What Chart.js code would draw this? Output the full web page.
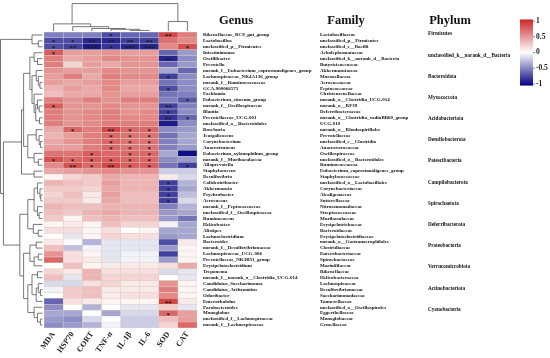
<!DOCTYPE html>
<html>
<head>
<meta charset="utf-8">
<script src="https://cdn.jsdelivr.net/npm/chart.js@4.4.1/dist/chart.umd.min.js"></script>
<style>
  html, body { margin: 0; padding: 0; background: #fff; }
  #wrap { width: 550px; height: 358px; }
</style>
</head>
<body>
<div id="wrap"><canvas id="heat" width="550" height="358"></canvas></div>
<script>
// 菌属与指标相关性热图 (Spearman r, -1 ~ 1)

const indicators = ['MDA', 'HSP70', 'CORT', 'TNF-α', 'IL-1β', 'IL-6', 'SOD', 'CAT'];

const genera = [
  'Rikenellaceae_RC9_gut_group', 'Lactobacillus', 'unclassified_p__Firmicutes', 'Intestinimonas',
  'Oscillibacter', 'Prevotella', 'norank_f__Eubacterium_coprostanoligenes_group',
  'Lachnospiraceae_NK4A136_group', 'norank_f__Ruminococcaceae', 'GCA-900066575', 'Facklamia',
  'Eubacterium_siraeum_group', 'norank_f__Oscillospiraceae', 'Blautia', 'Prevotellaceae_UCG-001',
  'unclassified_o__Bacteroidales', 'Roseburia', 'Jeotgalicoccus', 'Corynebacterium', 'Anaerotruncus',
  'Eubacterium_xylanophilum_group', 'norank_f__Muribaculaceae', 'Alloprevotella', 'Staphylococcus',
  'Desulfovibrio', 'Colidextribacter', 'Akkermansia', 'Psychrobacter', 'Aerococcus',
  'norank_f__Peptococcaceae', 'unclassified_f__Oscillospiraceae', 'Ruminococcus', 'Helicobacter',
  'Alistipes', 'Lachnoclostridium', 'Bacteroides', 'norank_f__Desulfovibrionaceae',
  'Lachnospiraceae_UCG-006', 'Prevotellaceae_NK3B31_group', 'Erysipelatoclostridium', 'Treponema',
  'norank_f__norank_o__Clostridia_UCG-014', 'Candidatus_Saccharimonas', 'Candidatus_Arthromitus',
  'Odoribacter', 'Enterorhabdus', 'Parabacteroides', 'Monoglobus', 'unclassified_f__Lachnospiraceae',
  'norank_f__Lachnospiraceae',
];

const families = [
  'Lactobacillaceae', 'unclassified_p__Firmicutes', 'unclassified_c__Bacilli', 'Acholeplasmataceae',
  'unclassified_k__norank_d__Bacteria', 'Butyricicoccaceae', 'Akkermansiaceae', 'Moraxellaceae',
  'Aerococcaceae', 'Peptococcaceae', 'Christensenellaceae', 'norank_o__Clostridia_UCG-014',
  'norank_o__RF39', 'Deferribacteraceae', 'norank_o__Clostridia_vadinBB60_group', 'UCG-010',
  'norank_o__Rhodospirillales', 'Prevotellaceae', 'unclassified_c__Clostridia', 'Anaerovoracaceae',
  'Oscillospiraceae', 'unclassified_o__Bacteroidales', 'Ruminococcaceae',
  'Eubacterium_coprostanoligenes_group', 'Staphylococcaceae', 'unclassified_o__Lactobacillales',
  'Corynebacteriaceae', 'Alcaligenaceae', 'Sutterellaceae', 'Nitrosomonadaceae', 'Streptococcaceae',
  'Muribaculaceae', 'Erysipelotrichaceae', 'Bacteroidaceae', 'Erysipelatoclostridiaceae',
  'norank_o__Gastranaerophilales', 'Clostridiaceae', 'Enterobacteriaceae', 'Spirochaetaceae',
  'Marinifilaceae', 'Rikenellaceae', 'Helicobacteraceae', 'Lachnospiraceae', 'Desulfovibrionaceae',
  'Saccharimonadaceae', 'Tannerellaceae', 'unclassified_o__Oscillospirales', 'Eggerthellaceae',
  'Monoglobaceae', 'Gemellaceae',
];

const phyla = [
  'Firmicutes', 'unclassified_k__norank_d__Bacteria', 'Bacteroidota', 'Myxococcota',
  'Acidobacteriota', 'Desulfobacterota', 'Patescibacteria', 'Campilobacterota', 'Spirochaetota',
  'Deferribacterota', 'Proteobacteria', 'Verrucomicrobiota', 'Actinobacteriota', 'Cyanobacteria',
];

// 每行: MDA, HSP70, CORT, TNF-α, IL-1β, IL-6, SOD, CAT
const corr = [
  [-0.5, -0.5, -0.5, -0.7, -0.6, -0.6, 0.85, 0.6],
  [-0.7, -0.7, -0.85, -0.85, -0.75, -0.75, 0.65, 0.55],
  [-0.7, -0.75, -0.9, -0.8, -0.85, -0.85, 0.55, 0.8],
  [0.75, 0.45, 0.45, 0.5, 0.45, 0.45, -0.6, -0.4],
  [0.6, 0.4, 0.45, 0.55, 0.5, 0.5, -0.85, -0.45],
  [0.6, 0.2, 0.45, 0.4, 0.5, 0.5, -0.6, -0.4],
  [0.5, 0.45, 0.45, 0.55, 0.5, 0.5, -0.35, -0.6],
  [0.45, 0.6, 0.4, 0.6, 0.55, 0.55, -0.75, -0.45],
  [0.45, 0.4, 0.45, 0.55, 0.45, 0.45, -0.55, -0.45],
  [0.35, 0.45, 0.4, 0.55, 0.4, 0.4, -0.7, -0.45],
  [0.3, 0.4, 0.4, 0.5, 0.45, 0.45, -0.55, -0.5],
  [0.6, 0.5, 0.6, 0.5, 0.6, 0.6, -0.5, -0.65],
  [0.75, 0.5, 0.5, 0.55, 0.5, 0.5, -0.75, -0.5],
  [0.6, 0.5, 0.55, 0.6, 0.5, 0.55, -0.75, -0.45],
  [0.6, 0.5, 0.55, 0.6, 0.55, 0.55, -0.8, -0.6],
  [0.6, 0.5, 0.55, 0.6, 0.6, 0.6, -0.9, -0.45],
  [0.4, 0.7, 0.6, 0.85, 0.7, 0.7, -0.45, -0.4],
  [0.35, 0.45, 0.6, 0.7, 0.65, 0.65, -0.55, -0.35],
  [0.4, 0.5, 0.6, 0.7, 0.65, 0.65, -0.5, -0.35],
  [0.45, 0.45, 0.6, 0.7, 0.65, 0.65, -0.5, -0.4],
  [0.65, 0.65, 0.75, 0.7, 0.7, 0.7, -0.35, -0.95],
  [0.8, 0.7, 0.75, 0.75, 0.7, 0.7, -0.45, -0.4],
  [0.55, 0.8, 0.7, 0.85, 0.75, 0.75, -0.55, -0.75],
  [0.4, 0.45, 0.5, 0.55, 0.5, 0.5, -0.2, -0.2],
  [0.05, 0.2, 0.25, 0.4, 0.35, 0.35, 0.1, -0.15],
  [0.35, 0.3, 0.25, 0.45, 0.35, 0.35, -0.75, -0.3],
  [0.25, 0.25, 0.2, 0.4, 0.35, 0.35, -0.75, -0.35],
  [0.2, 0.3, 0.1, 0.45, 0.3, 0.3, -0.75, -0.25],
  [0.25, 0.25, 0.1, 0.4, 0.3, 0.3, -0.75, -0.15],
  [0.35, 0.3, 0.3, 0.35, 0.35, 0.35, -0.5, -0.3],
  [0.3, 0.25, 0.35, 0.4, 0.35, 0.35, -0.4, -0.35],
  [0.25, 0.05, 0.3, 0.35, 0.3, 0.3, -0.4, -0.55],
  [0.05, 0.1, 0.05, 0.3, 0.2, 0.2, -0.05, -0.35],
  [0.15, 0.15, 0.05, 0.15, 0.0, 0.05, -0.35, -0.35],
  [0.02, -0.1, 0.05, 0.2, 0.15, 0.15, -0.4, -0.35],
  [0.1, 0.0, -0.3, -0.1, -0.1, -0.1, -0.7, 0.1],
  [0.3, -0.25, -0.05, -0.1, -0.1, -0.1, -0.4, 0.05],
  [0.5, 0.15, 0.05, -0.1, -0.05, -0.05, -0.75, 0.05],
  [0.7, 0.15, 0.1, -0.1, -0.05, -0.05, -0.4, 0.05],
  [0.0, 0.3, 0.05, 0.1, 0.1, 0.1, 0.15, 0.4],
  [0.2, 0.1, 0.35, 0.15, 0.15, 0.15, -0.15, -0.1],
  [0.3, -0.1, 0.35, 0.2, 0.2, 0.2, 0.0, -0.1],
  [-0.15, -0.15, 0.15, 0.2, 0.1, 0.1, 0.5, 0.05],
  [-0.05, 0.25, 0.3, 0.1, 0.1, 0.1, 0.6, 0.05],
  [0.0, 0.25, 0.3, 0.1, 0.15, 0.15, 0.55, 0.05],
  [-0.6, 0.15, 0.1, 0.05, 0.05, 0.05, 0.85, 0.1],
  [-0.45, 0.0, -0.3, 0.0, -0.1, -0.1, 0.25, -0.1],
  [-0.35, -0.35, 0.0, -0.35, -0.15, -0.15, 0.7, 0.45],
  [-0.4, -0.45, -0.15, 0.0, -0.2, -0.2, 0.3, 0.45],
  [-0.45, -0.4, -0.3, -0.05, -0.2, -0.2, 0.2, 0.7],
];

// 显著性标记 [行, 列, 星号]
const sig = [
  [0, 3, '*'], [0, 6, '**'],
  [1, 0, '*'], [1, 1, '*'], [1, 2, '**'], [1, 3, '**'], [1, 4, '**'], [1, 5, '**'],
  [2, 0, '*'], [2, 1, '**'], [2, 2, '***'], [2, 3, '*'], [2, 4, '***'], [2, 5, '***'], [2, 7, '*'],
  [3, 0, '*'], [4, 6, '**'], [7, 6, '*'], [9, 6, '*'], [11, 7, '*'],
  [12, 0, '*'], [12, 6, '**'], [13, 6, '*'], [14, 6, '**'], [14, 7, '*'],
  [16, 1, '*'], [16, 3, '**'], [16, 4, '*'], [16, 5, '*'],
  [17, 3, '*'], [17, 4, '*'], [17, 5, '*'],
  [18, 3, '*'], [18, 4, '*'], [18, 5, '*'],
  [19, 3, '*'], [19, 4, '*'], [19, 5, '*'],
  [20, 2, '*'], [20, 4, '*'], [20, 5, '*'],
  [21, 0, '*'], [21, 1, '*'], [21, 2, '*'], [21, 3, '*'], [21, 4, '*'], [21, 5, '*'],
  [22, 1, '**'], [22, 2, '*'], [22, 3, '**'], [22, 4, '*'], [22, 5, '*'], [22, 7, '*'],
  [25, 6, '*'], [26, 6, '*'], [27, 6, '*'], [28, 6, '*'],
  [45, 6, '**'], [47, 6, '*'],
];

// 聚类树: node(高度, 左, 右), 叶子为行/列序号
const node = (h, a, b) => ({ h, kids: [a, b] });

const rowTree = node(1.0,
  node(0.25, 0, node(0.1, 1, 2)),
  node(0.93,
    node(0.5,
      node(0.45,
        node(0.3,
          node(0.2, 3, node(0.12, 4, 5)),
          node(0.25,
            node(0.15, 6, node(0.1, 7, node(0.06, 8, 9))),
            node(0.2, 10, node(0.16, node(0.12, 11, node(0.08, 12, 13)), node(0.07, 14, 15))))),
        node(0.35,
          node(0.15, 16, node(0.08, 17, node(0.05, 18, 19))),
          node(0.2, 20, node(0.1, 21, 22)))),
      node(0.2, 23, 24)),
    node(0.54,
      node(0.35,
        node(0.2,
          node(0.12, 25, node(0.06, 26, node(0.04, 27, 28))),
          node(0.12, 29, node(0.08, 30, 31))),
        node(0.22, 32, node(0.1, 33, 34))),
      node(0.45,
        node(0.3, node(0.15, 35, 36), node(0.2, node(0.1, 37, 38), 39)),
        node(0.35,
          node(0.25, node(0.12, 40, 41), node(0.15, node(0.1, 42, node(0.05, 43, 44)), 45)),
          node(0.2, 46, node(0.12, 47, node(0.05, 48, 49))))))));

const colTree = node(0.98,
  node(0.255, 0, node(0.155, 1, node(0.09, 2, node(0.06, 3, node(0.02, 4, 5))))),
  node(0.34, 6, 7));

const legendTicks = [1, 0.5, 0, -0.5, -1];
const headers = ['Genus', 'Family', 'Phylum'];

const serif = 'Liberation Serif';

// navy -> white -> firebrick3
function corrColor(v) {
  const lo = [0, 0, 128], mid = [255, 255, 255], hi = [205, 38, 38];
  const t = Math.max(-1, Math.min(1, v));
  const end = t < 0 ? lo : hi;
  const f = Math.abs(t);
  const c = mid.map((m, i) => Math.round(m + (end[i] - m) * f));
  return 'rgb(' + c.join(',') + ')';
}

function drawTree(ctx, tree, leafPos, heightPos, vertical) {
  const walk = t => {
    if (typeof t === 'number') return { p: leafPos(t), h: 0 };
    const [a, b] = t.kids.map(walk);
    const hh = heightPos(t.h);
    if (vertical) {
      ctx.moveTo(a.p, heightPos(a.h)); ctx.lineTo(a.p, hh);
      ctx.lineTo(b.p, hh); ctx.lineTo(b.p, heightPos(b.h));
    } else {
      ctx.moveTo(heightPos(a.h), a.p); ctx.lineTo(hh, a.p);
      ctx.lineTo(hh, b.p); ctx.lineTo(heightPos(b.h), b.p);
    }
    return { p: (a.p + b.p) / 2, h: t.h };
  };
  ctx.beginPath();
  walk(tree);
  ctx.stroke();
}

const decor = {
  id: 'decor',
  afterDatasetsDraw(chart) {
    const { ctx, scales: { x, y } } = chart;
    ctx.save();
    ctx.fillStyle = '#1b1b1b';
    ctx.font = 'bold 7px "' + serif + '"';
    ctx.textAlign = 'center';
    ctx.textBaseline = 'middle';
    sig.forEach(([r, c, s]) => {
      ctx.fillText(s, x.getPixelForValue(c + 0.5), y.getPixelForValue(r) + 1.6);
    });
    ctx.restore();
  },
  afterDraw(chart) {
    const { ctx, chartArea: area, scales: { x, y } } = chart;
    ctx.save();

    // 聚类树
    ctx.strokeStyle = '#555';
    ctx.lineWidth = 0.8;
    drawTree(ctx, rowTree, i => y.getPixelForValue(i), h => area.left - 1.5 - h * (area.left - 2), false);
    drawTree(ctx, colTree, i => x.getPixelForValue(i + 0.5), h => area.top - 1 - h * 28, true);

    // 标题
    ctx.fillStyle = '#111';
    ctx.font = 'bold 12.5px "' + serif + '"';
    ctx.textAlign = 'center';
    ctx.textBaseline = 'middle';
    [236, 346, 450].forEach((cx, i) => ctx.fillText(headers[i], cx, 21));

    // 色条
    const barX = 520, barW = 13;
    const ly = v => 52.5 - v * 31.5;
    const grad = ctx.createLinearGradient(0, ly(1.05), 0, ly(-1.05));
    for (let k = 0; k <= 20; k++) grad.addColorStop(k / 20, corrColor(1 - k / 10));
    ctx.fillStyle = grad;
    ctx.fillRect(barX, ly(1.05), barW, ly(-1.05) - ly(1.05));
    ctx.strokeStyle = '#333';
    ctx.lineWidth = 0.6;
    ctx.fillStyle = '#222';
    ctx.font = 'bold 7.5px "' + serif + '"';
    ctx.textAlign = 'left';
    legendTicks.forEach(v => {
      ctx.beginPath();
      ctx.moveTo(barX + barW, ly(v));
      ctx.lineTo(barX + barW + 2, ly(v));
      ctx.stroke();
      ctx.fillText(String(v), barX + barW + 3, ly(v));
    });
    ctx.restore();
  },
};

const rowFont = { family: serif, size: 5, weight: 'bold' };

const datasets = indicators.map((name, c) => ({
  label: name,
  data: genera.map(() => 1),
  backgroundColor: corr.map(r => corrColor(r[c])),
  borderColor: '#d6cec4',
  borderWidth: 0.5,
  borderSkipped: false,
  barPercentage: 1,
  categoryPercentage: 1,
}));

new Chart(document.getElementById('heat'), {
  type: 'bar',
  data: { labels: genera, datasets },
  options: {
    indexAxis: 'y',
    responsive: false,
    animation: false,
    devicePixelRatio: 1,
    layout: { padding: { left: 44, top: 32, right: 0, bottom: 0 } },
    plugins: { legend: { display: false }, tooltip: { enabled: false } },
    scales: {
      x: {
        type: 'linear',
        stacked: true,
        min: 0,
        max: indicators.length,
        position: 'bottom',
        grid: { display: false, drawTicks: false },
        border: { display: false },
        afterBuildTicks: s => { s.ticks = indicators.map((_, i) => ({ value: i + 0.5 })); },
        afterFit: s => { s.height = 30; },
        ticks: {
          autoSkip: false,
          minRotation: 55,
          maxRotation: 55,
          padding: 2,
          color: '#222',
          font: { family: serif, size: 8, weight: 'bold' },
          callback: v => indicators[Math.floor(v)],
        },
      },
      y: {
        type: 'category',
        stacked: true,
        position: 'right',
        weight: 1,
        grid: { display: false, drawTicks: false },
        border: { display: false },
        afterFit: s => { s.width = 123; },
        ticks: { autoSkip: false, padding: 6, color: '#111', font: rowFont },
      },
      yF: {
        type: 'category',
        labels: families,
        offset: true,
        position: 'right',
        weight: 2,
        grid: { display: false, drawTicks: false },
        border: { display: false },
        afterFit: s => { s.width = 108; },
        ticks: { autoSkip: false, padding: 0, color: '#111', font: rowFont },
      },
      yP: {
        type: 'linear',
        min: -0.094,
        max: 13.88,
        reverse: true,
        offset: false,
        position: 'right',
        weight: 3,
        grid: { display: false, drawTicks: false, offset: false },
        border: { display: false },
        afterBuildTicks: s => { s.ticks = phyla.map((_, i) => ({ value: i })); },
        afterFit: s => { s.width = 122; },
        ticks: {
          autoSkip: false,
          padding: 0,
          color: '#111',
          font: { family: serif, size: 5.2, weight: 'bold' },
          callback: v => phyla[Math.round(v)],
        },
      },
    },
  },
  plugins: [decor],
});
</script>
</body>
</html>
